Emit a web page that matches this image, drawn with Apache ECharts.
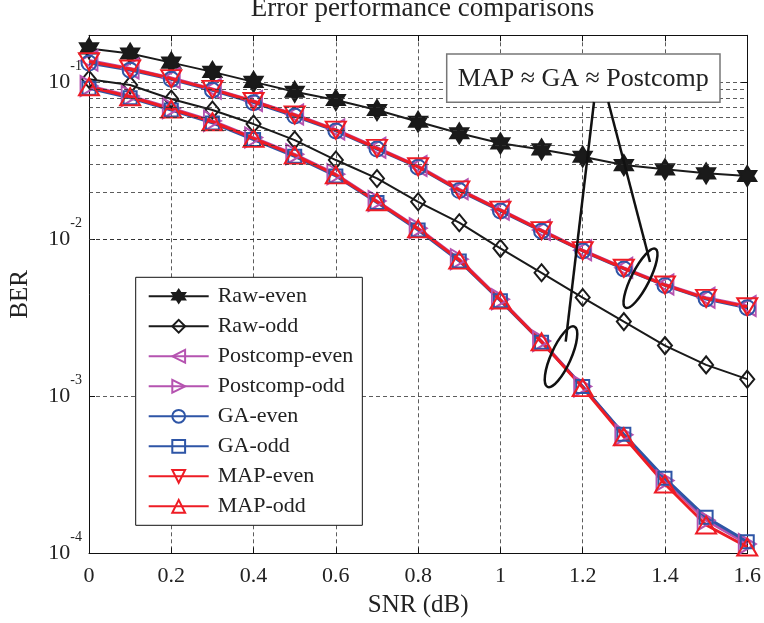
<!DOCTYPE html>
<html>
<head>
<meta charset="utf-8">
<script src="https://cdn.jsdelivr.net/npm/echarts@6/dist/echarts.min.js"></script>
<style>
html,body{margin:0;padding:0;background:#fff;}
#chart{width:764px;height:623px;}
</style>
</head>
<body>
<div id="chart"></div>
<script>
// ---- data ----
var snr = [0, 0.1, 0.2, 0.3, 0.4, 0.5, 0.6, 0.7, 0.8, 0.9, 1.0, 1.1, 1.2, 1.3, 1.4, 1.5, 1.6];
var rawEven = [0.165, 0.153, 0.134, 0.117, 0.101, 0.0874, 0.0774, 0.0668, 0.0563, 0.0475, 0.0410, 0.0375, 0.0337, 0.0298, 0.0280, 0.0264, 0.0254];
var rawOdd = [0.105, 0.0964, 0.0785, 0.0668, 0.0544, 0.0430, 0.0321, 0.0245, 0.0174, 0.0128, 0.00879, 0.00614, 0.00427, 0.00300, 0.00211, 0.00159, 0.00129];
var postEven = [0.138, 0.123, 0.107, 0.0912, 0.0763, 0.0627, 0.0502, 0.0385, 0.0294, 0.0209, 0.0155, 0.0115, 0.00855, 0.00660, 0.00517, 0.00426, 0.00377];
var postOdd = [0.095, 0.0822, 0.0686, 0.0570, 0.0446, 0.0349, 0.0261, 0.0176, 0.0118, 0.0075, 0.00416, 0.00226, 0.00116, 0.00057, 0.000292, 0.000163, 0.000115];
var gaEven = [0.133, 0.120, 0.105, 0.0893, 0.0745, 0.0612, 0.0492, 0.0377, 0.0289, 0.0205, 0.0152, 0.0113, 0.00845, 0.00650, 0.00510, 0.00418, 0.00368];
var gaOdd = [0.092, 0.080, 0.0668, 0.0553, 0.0433, 0.0339, 0.0254, 0.0172, 0.0115, 0.0073, 0.00408, 0.00222, 0.00116, 0.000575, 0.000301, 0.00017, 0.000119];
var mapEven = [0.136, 0.122, 0.106, 0.0905, 0.0757, 0.0621, 0.0498, 0.0381, 0.0291, 0.0207, 0.0154, 0.0114, 0.00849, 0.00656, 0.00513, 0.00422, 0.00373];
var mapOdd = [0.094, 0.0812, 0.0678, 0.0563, 0.0441, 0.0345, 0.0258, 0.0174, 0.0117, 0.0074, 0.00412, 0.00223, 0.00114, 0.000554, 0.000277, 0.000152, 0.00011];
var seriesNames = ['Raw-even', 'Raw-odd', 'Postcomp-even', 'Postcomp-odd', 'GA-even', 'GA-odd', 'MAP-even', 'MAP-odd'];
var xTicks = [0, 0.2, 0.4, 0.6, 0.8, 1.0, 1.2, 1.4, 1.6];
var yMin = 1e-4, yMax = 0.2;
var minorGrid = [2e-4,3e-4,4e-4,5e-4,6e-4,7e-4,8e-4,9e-4,2e-3,3e-3,4e-3,5e-3,6e-3,7e-3,8e-3,9e-3,2e-2,3e-2,4e-2,5e-2,6e-2,7e-2,8e-2,9e-2];
var titleText = 'Error performance comparisons';
var noteText = 'MAP \u2248 GA \u2248 Postcomp';

// ---- styling ----
var FONT = '"Liberation Serif", "Times New Roman", serif';
var BLACK = '#1a1a1a', MAG = '#b553b0', BLUE = '#2e55a6', RED = '#ee1c25';
var HEX = 'path://M0,-10 L2.887,-5 L8.66,-5 L5.774,0 L8.66,5 L2.887,5 L0,10 L-2.887,5 L-8.66,5 L-5.774,0 L-8.66,-5 L-2.887,-5 Z';

function pairs(arr) { return snr.map(function (x, i) { return [x, arr[i]]; }); }

function mk(name, arr, color, symbol, size, rot, width, filled) {
  return {
    name: name, type: 'line', data: pairs(arr),
    xAxisIndex: 0, yAxisIndex: 0,
    symbol: symbol, symbolSize: size, symbolRotate: rot || 0,
    showAllSymbol: true,
    lineStyle: { color: color, width: width },
    itemStyle: { color: filled ? color : 'rgba(255,255,255,0)', borderColor: color, borderWidth: 2 },
    emphasis: { disabled: true },
    z: 3
  };
}

var chart = echarts.init(document.getElementById('chart'), null, { renderer: 'canvas' });

var gridLine = { show: true, lineStyle: { color: '#333', width: 0.8, type: [4, 3] } };

var option = {
  animation: false,
  backgroundColor: '#fff',
  title: {
    text: titleText, left: 417.5, textAlign: 'center', top: -10,
    textStyle: { fontFamily: FONT, fontSize: 27, fontWeight: 'normal', color: '#222' }
  },
  grid: { left: 86.5, right: 15.5, top: 35.3, bottom: 69.5 },
  legend: {
    data: seriesNames,
    orient: 'vertical', left: 135.7, top: 277.3,
    backgroundColor: '#fff', borderColor: '#111', borderWidth: 1,
    padding: [8, 9, 8, 12], itemGap: 8, itemWidth: 60, itemHeight: 16,
    textStyle: { fontFamily: FONT, fontSize: 22, color: '#222', lineHeight: 22, padding: [0, 0, 0, 4] },
    selectedMode: false
  },
  xAxis: [{
    type: 'value', min: 0, max: 1.6, interval: 0.2,
    name: 'SNR (dB)', nameLocation: 'middle', nameGap: 39,
    nameTextStyle: { fontFamily: FONT, fontSize: 25, color: '#222' },
    axisLine: { show: true, onZero: false, lineStyle: { color: '#111', width: 1 } },
    axisTick: { show: true, inside: true, length: 6, lineStyle: { color: '#111' } },
    axisLabel: { fontFamily: FONT, fontSize: 22, color: '#222', margin: 12 },
    splitLine: gridLine
  }, {
    type: 'value', min: 0, max: 1.6, interval: 0.2, position: 'top',
    axisLine: { show: true, onZero: false, lineStyle: { color: '#111', width: 1 } },
    axisTick: { show: true, inside: true, length: 6, lineStyle: { color: '#111' } },
    axisLabel: { show: false }, splitLine: { show: false }
  }],
  yAxis: [{
    type: 'log', logBase: 10, min: yMin, max: yMax,
    name: 'BER', nameLocation: 'middle', nameGap: 56,
    nameTextStyle: { fontFamily: FONT, fontSize: 25, color: '#222' },
    axisLine: { show: true, onZero: false, lineStyle: { color: '#111', width: 1 } },
    axisTick: { show: true, inside: true, length: 6, lineStyle: { color: '#111' } },
    axisLabel: {
      margin: 7,
      formatter: function (v) {
        var l = Math.log(v) / Math.LN10;
        var e = Math.round(l);
        if (Math.abs(l - e) > 1e-6) return '';
        return '{b|10}{s|' + e + '}';
      },
      rich: {
        b: { fontFamily: FONT, fontSize: 22, color: '#222', verticalAlign: 'middle' },
        s: { fontFamily: FONT, fontSize: 14, color: '#222', verticalAlign: 'middle', padding: [0, 0, 32, 0] }
      }
    },
    splitLine: gridLine
  }, {
    type: 'log', logBase: 10, min: yMin, max: yMax, position: 'right',
    axisLine: { show: true, onZero: false, lineStyle: { color: '#111', width: 1 } },
    axisTick: { show: true, inside: true, length: 6, lineStyle: { color: '#111' } },
    axisLabel: { show: false }, splitLine: { show: false }
  }],
  series: [
    {
      name: 'grid-minor', type: 'line', data: [], xAxisIndex: 0, yAxisIndex: 0, z: 1,
      silent: true,
      markLine: {
        silent: true, symbol: 'none', animation: false,
        label: { show: false },
        lineStyle: { color: '#333', width: 0.8, type: [4, 3] },
        data: minorGrid.map(function (v) { return { yAxis: v }; })
      }
    },
    mk('Raw-even', rawEven, BLACK, HEX, [18, 20], 0, 2, true),
    mk('Raw-odd', rawOdd, BLACK, 'diamond', [14, 17], 0, 2, false),
    mk('Postcomp-even', postEven, MAG, 'triangle', [20, 17], 90, 3, false),
    mk('Postcomp-odd', postOdd, MAG, 'triangle', [20, 17], -90, 3, false),
    mk('GA-even', gaEven, BLUE, 'circle', 15, 0, 3, false),
    mk('GA-odd', gaOdd, BLUE, 'rect', 13, 0, 3, false),
    mk('MAP-even', mapEven, RED, 'triangle', [20, 17], 180, 3, false),
    mk('MAP-odd', mapOdd, RED, 'triangle', [20, 17], 0, 3, false)
  ],
  graphic: [
    { type: 'rect', z: 50, shape: { x: 446.7, y: 54, width: 273.3, height: 48.3 },
      style: { fill: '#fff', stroke: '#777', lineWidth: 1.5 } },
    { type: 'text', z: 51, x: 583.3, y: 79,
      style: { text: noteText, font: '26px ' + FONT, fill: '#222', textAlign: 'center', textVerticalAlign: 'middle' } },
    { type: 'line', z: 50, shape: { x1: 594, y1: 102, x2: 565.7, y2: 341.7 }, style: { stroke: '#111', lineWidth: 2.5 } },
    { type: 'line', z: 50, shape: { x1: 608.3, y1: 102, x2: 650, y2: 262 }, style: { stroke: '#111', lineWidth: 2.5 } },
    { type: 'ellipse', z: 50, x: 561, y: 356.7, rotation: -0.42, shape: { cx: 0, cy: 0, rx: 10, ry: 33 },
      style: { fill: 'none', stroke: '#111', lineWidth: 2.5 } },
    { type: 'ellipse', z: 50, x: 640.5, y: 278.3, rotation: -0.47, shape: { cx: 0, cy: 0, rx: 9, ry: 33 },
      style: { fill: 'none', stroke: '#111', lineWidth: 2.5 } }
  ]
};
chart.setOption(option);
</script>
</body>
</html>
